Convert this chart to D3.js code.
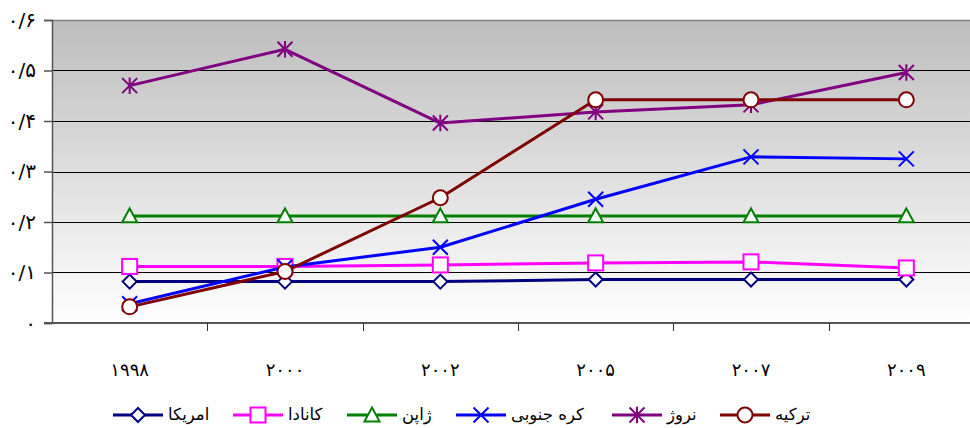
<!DOCTYPE html>
<html>
<head>
<meta charset="utf-8">
<script src="https://cdn.jsdelivr.net/npm/d3@7"></script>
<style>
  html, body { margin: 0; padding: 0; background: #fff; }
  svg { display: block; font-family: "DejaVu Sans", sans-serif; }
</style>
</head>
<body>
<svg id="chart" width="970" height="428"></svg>
<script>
// Years on the category axis and their Persian labels
const years = ["1998", "2000", "2002", "2005", "2007", "2009"];
const yearLabels = ["۱۹۹۸", "۲۰۰۰", "۲۰۰۲", "۲۰۰۵", "۲۰۰۷", "۲۰۰۹"];

// Value-axis ticks and labels
const yTicks = [0, 0.1, 0.2, 0.3, 0.4, 0.5, 0.6];
const yTickLabels = ["۰", "۰/۱", "۰/۲", "۰/۳", "۰/۴", "۰/۵", "۰/۶"];

// Series names (legend order)
const seriesNames = ["امریکا", "کانادا", "ژاپن", "کره جنوبی", "نروژ", "ترکیه"];

// Series values by year
const usa    = [0.082, 0.082, 0.082, 0.086, 0.086, 0.086];
const canada = [0.112, 0.112, 0.115, 0.119, 0.121, 0.109];
const japan  = [0.212, 0.212, 0.212, 0.212, 0.212, 0.212];
const korea  = [0.038, 0.111, 0.150, 0.245, 0.329, 0.325];
const norway = [0.470, 0.542, 0.396, 0.418, 0.432, 0.496];
const turkey = [0.032, 0.102, 0.248, 0.442, 0.442, 0.442];

const seriesValues = [usa, canada, japan, korea, norway, turkey];
const colors = ["#000080", "#ff00ff", "#008000", "#0000ff", "#800080", "#800000"];
const markers = ["diamond", "square", "triangle", "cross", "star", "circle"];

const svg = d3.select("#chart");
const plot = { left: 52, top: 20, right: 984, bottom: 323 };

const x = d3.scaleBand().domain(years).range([plot.left, plot.right]).padding(0);
const y = d3.scaleLinear().domain([0, 0.6]).range([plot.bottom, plot.top]);

// Background gradient
const defs = svg.append("defs");
const grad = defs.append("linearGradient").attr("id", "bg")
  .attr("x1", 0).attr("y1", 0).attr("x2", 0).attr("y2", 1);
grad.append("stop").attr("offset", "0%").attr("stop-color", "#bdbdbd");
grad.append("stop").attr("offset", "100%").attr("stop-color", "#ffffff");

svg.append("rect")
  .attr("x", plot.left).attr("y", plot.top)
  .attr("width", plot.right - plot.left).attr("height", plot.bottom - plot.top)
  .attr("fill", "url(#bg)");

// Horizontal gridlines
svg.append("g").selectAll("line")
  .data(yTicks.filter(v => v > 0 && v < 0.6))
  .join("line")
  .attr("x1", plot.left).attr("x2", plot.right)
  .attr("y1", d => Math.round(y(d)) + 0.5).attr("y2", d => Math.round(y(d)) + 0.5)
  .attr("stroke", "#000").attr("stroke-width", 1);

// Top border of the plot area
svg.append("line")
  .attr("x1", plot.left).attr("x2", plot.right)
  .attr("y1", plot.top + 0.5).attr("y2", plot.top + 0.5)
  .attr("stroke", "#808080").attr("stroke-width", 1.5);

// Left value axis
const yAxis = d3.axisLeft(y).tickValues(yTicks)
  .tickFormat((d, i) => yTickLabels[i]).tickSize(8).tickPadding(8);
const gy = svg.append("g").attr("transform", `translate(${plot.left},0)`).call(yAxis);
gy.select(".domain").attr("stroke", "#555").attr("stroke-width", 1.5);
gy.selectAll(".tick line").attr("stroke", "#555").attr("stroke-width", 1.5);
gy.selectAll(".tick text").attr("font-size", 20).attr("fill", "#000")
  .attr("font-family", "DejaVu Sans, sans-serif");

// Bottom category axis: ticks sit between categories
const xBoundaries = years.slice(1).map(d => x(d));
const gx = svg.append("g");
gx.append("line")
  .attr("x1", plot.left - 8).attr("x2", plot.right)
  .attr("y1", plot.bottom).attr("y2", plot.bottom)
  .attr("stroke", "#555").attr("stroke-width", 2);
gx.selectAll("line.tk").data(xBoundaries).join("line").attr("class", "tk")
  .attr("x1", d => Math.round(d) + 0.5).attr("x2", d => Math.round(d) + 0.5)
  .attr("y1", plot.bottom).attr("y2", plot.bottom + 8)
  .attr("stroke", "#333").attr("stroke-width", 1);
gx.selectAll("text").data(years).join("text")
  .attr("x", d => x(d) + x.bandwidth() / 2)
  .attr("y", 376)
  .attr("text-anchor", "middle")
  .attr("font-size", 18)
  .text((d, i) => yearLabels[i]);

// Marker shapes
function drawMarker(g, type, color, size) {
  const s = size / 2;
  if (type === "diamond") {
    g.append("path").attr("d", `M0,${-s}L${s},0L0,${s}L${-s},0Z`)
      .attr("fill", "#fff").attr("stroke", color).attr("stroke-width", 2);
  } else if (type === "square") {
    g.append("rect").attr("x", -s).attr("y", -s).attr("width", size).attr("height", size)
      .attr("fill", "#fff").attr("stroke", color).attr("stroke-width", 2);
  } else if (type === "triangle") {
    g.append("path").attr("d", `M0,${-s}L${s},${s * 0.85}L${-s},${s * 0.85}Z`)
      .attr("fill", "#fff").attr("stroke", color).attr("stroke-width", 2);
  } else if (type === "cross") {
    g.append("path").attr("d", `M${-s},${-s}L${s},${s}M${-s},${s}L${s},${-s}`)
      .attr("fill", "none").attr("stroke", color).attr("stroke-width", 2);
  } else if (type === "star") {
    g.append("path").attr("d", `M${-s},${-s}L${s},${s}M${-s},${s}L${s},${-s}M0,${-s * 1.1}L0,${s * 1.1}`)
      .attr("fill", "none").attr("stroke", color).attr("stroke-width", 2);
  } else if (type === "circle") {
    g.append("circle").attr("r", s)
      .attr("fill", "#fff").attr("stroke", color).attr("stroke-width", 2);
  }
}

const markerSize = [14, 15, 15, 15, 15, 15];

// Lines and markers, series by series
const line = d3.line()
  .x((d, i) => x(years[i]) + x.bandwidth() / 2)
  .y(d => y(d));

seriesValues.forEach((vals, si) => {
  const g = svg.append("g");
  g.append("path").datum(vals)
    .attr("d", line)
    .attr("fill", "none")
    .attr("stroke", colors[si])
    .attr("stroke-width", 3)
    .attr("stroke-linejoin", "round");
  vals.forEach((v, i) => {
    const mg = g.append("g")
      .attr("transform", `translate(${x(years[i]) + x.bandwidth() / 2},${y(v)})`);
    drawMarker(mg, markers[si], colors[si], markerSize[si]);
  });
});

// Legend
const legendX = [113, 233, 347, 456, 612, 720];
const legendY = 415;
seriesNames.forEach((name, si) => {
  const g = svg.append("g").attr("transform", `translate(${legendX[si]},${legendY})`);
  g.append("line").attr("x1", 0).attr("x2", 50).attr("y1", 0).attr("y2", 0)
    .attr("stroke", colors[si]).attr("stroke-width", 3);
  const mg = g.append("g").attr("transform", "translate(25,0)");
  drawMarker(mg, markers[si], colors[si], markerSize[si]);
  g.append("text").attr("x", 55).attr("y", 5)
    .attr("font-size", 16.5)
    .attr("text-anchor", "start")
    .text(name);
});
</script>
</body>
</html>
